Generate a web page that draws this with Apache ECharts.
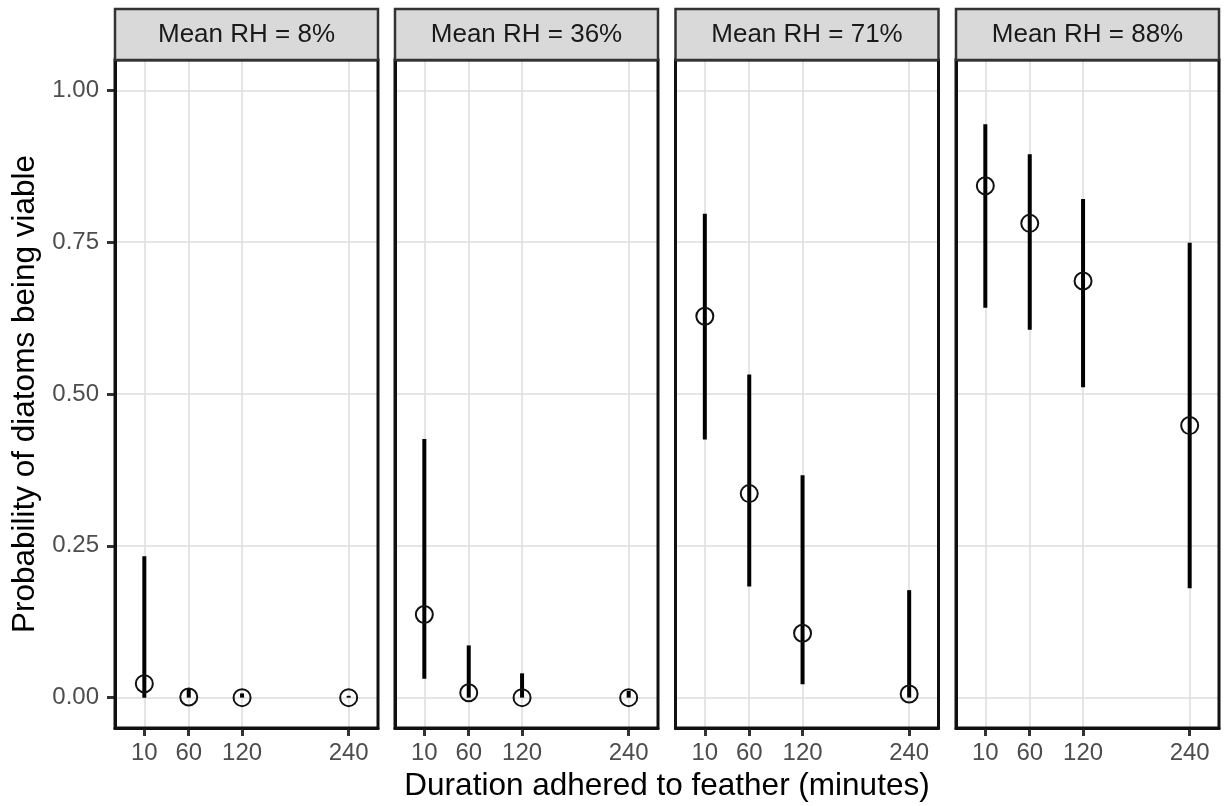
<!DOCTYPE html>
<html>
<head>
<meta charset="utf-8">
<script src="https://cdn.jsdelivr.net/npm/echarts@6/dist/echarts.min.js"></script>
<style>
html,body{margin:0;padding:0;background:#fff;}
#chart{width:1225px;height:806px;}
</style>
</head>
<body>
<div id="chart"></div>
<script>
// ---- data ----
var durations = [10, 60, 120, 240];
var xTickLabels = [10, 60, 120, 240];
var yTickValues = [0, 0.25, 0.5, 0.75, 1];
var panelTitles = ['Mean RH = 8%', 'Mean RH = 36%', 'Mean RH = 71%', 'Mean RH = 88%'];

var est8  = [0.023, 0.001, 0.000, 0.000];
var lo8   = [0.000, 0.000, 0.000, 0.000];
var hi8   = [0.233, 0.015, 0.007, 0.003];

var est36 = [0.137, 0.008, 0.000, 0.000];
var lo36  = [0.031, 0.000, 0.000, 0.000];
var hi36  = [0.426, 0.086, 0.040, 0.011];

var est71 = [0.628, 0.336, 0.106, 0.006];
var lo71  = [0.425, 0.183, 0.022, 0.000];
var hi71  = [0.797, 0.532, 0.366, 0.177];

var est88 = [0.843, 0.781, 0.686, 0.448];
var lo88  = [0.642, 0.606, 0.511, 0.180];
var hi88  = [0.944, 0.895, 0.821, 0.749];

var xTitle = 'Duration adhered to feather (minutes)';
var yTitle = 'Probability of diatoms being viable';

// ---- layout ----
var FONT = '"Liberation Sans", Arial, Helvetica, sans-serif';
var panelLefts = [115, 395, 675.5, 956];
var panelWidth = 263;
var panelTop = 60;
var panelHeight = 668;
var stripTop = 9;

var ests = [est8, est36, est71, est88];
var los = [lo8, lo36, lo71, lo88];
var his = [hi8, hi36, hi71, hi88];

var grids = [], xAxes = [], yAxes = [], series = [], graphics = [];

for (var i = 0; i < 4; i++) {
  grids.push({
    left: panelLefts[i], top: panelTop, width: panelWidth, height: panelHeight,
    show: true, backgroundColor: '#fff', borderColor: 'transparent', borderWidth: 0,
    outerBoundsMode: 'none', containLabel: false
  });
  xAxes.push({
    type: 'value', gridIndex: i, min: -23, max: 273, position: 'bottom',
    axisLine: { show: true, onZero: false, lineStyle: { color: '#111', width: 3 } },
    axisTick: { show: true, inside: false, length: 8, customValues: xTickLabels, lineStyle: { color: '#333', width: 3 } },
    axisLabel: { show: true, customValues: xTickLabels, margin: 13, color: '#4D4D4D', fontSize: 24, fontFamily: FONT },
    splitLine: { show: true, lineStyle: { color: '#DCDCDC', width: 1.5 } },
    minorSplitLine: { show: false }
  });
  yAxes.push({
    type: 'value', gridIndex: i, min: -0.05, max: 1.05, position: 'left',
    axisLine: { show: true, onZero: false, lineStyle: { color: '#111', width: 3 } },
    axisTick: { show: i === 0, inside: false, length: 8, customValues: yTickValues, lineStyle: { color: '#333', width: 3 } },
    axisLabel: { show: i === 0, customValues: yTickValues, margin: 16, color: '#4D4D4D', fontSize: 24, fontFamily: FONT,
      formatter: function (v) { return Number(v).toFixed(2); } },
    splitLine: { show: true, lineStyle: { color: '#DCDCDC', width: 1.5 } }
  });

  var barData = [], ptData = [];
  for (var j = 0; j < durations.length; j++) {
    barData.push([durations[j], los[i][j], his[i][j]]);
    ptData.push([durations[j], ests[i][j]]);
  }
  series.push({
    type: 'custom', xAxisIndex: i, yAxisIndex: i, z: 3, silent: true,
    data: barData,
    encode: { x: 0, y: [1, 2] },
    renderItem: function (params, api) {
      var p1 = api.coord([api.value(0), api.value(1)]);
      var p2 = api.coord([api.value(0), api.value(2)]);
      return { type: 'line', shape: { x1: p1[0], y1: p1[1], x2: p2[0], y2: p2[1] },
        style: { stroke: '#000', lineWidth: 4, lineCap: 'butt' } };
    }
  });
  series.push({
    type: 'scatter', xAxisIndex: i, yAxisIndex: i, z: 4, silent: true,
    data: ptData, symbol: 'circle', symbolSize: 17,
    itemStyle: { color: 'rgba(0,0,0,0)', borderColor: '#111', borderWidth: 2, opacity: 1 }
  });

  // panel border
  graphics.push({
    type: 'rect', z: 100,
    shape: { x: panelLefts[i], y: panelTop, width: panelWidth, height: panelHeight },
    style: { fill: 'none', stroke: '#111', lineWidth: 3 }
  });
  // strip
  graphics.push({
    type: 'rect', z: 100,
    shape: { x: panelLefts[i], y: stripTop, width: panelWidth, height: panelTop - stripTop },
    style: { fill: '#D9D9D9', stroke: '#333', lineWidth: 2.5 }
  });
  graphics.push({
    type: 'text', z: 101, x: panelLefts[i] + panelWidth / 2, y: (stripTop + panelTop) / 2,
    style: { text: panelTitles[i], font: '26px ' + FONT, fill: '#1A1A1A', textAlign: 'center', textVerticalAlign: 'middle' }
  });
}

graphics.push({
  type: 'text', z: 101, x: (panelLefts[0] + panelLefts[3] + panelWidth) / 2, y: 786,
  style: { text: xTitle, font: '31.5px ' + FONT, fill: '#000', textAlign: 'center', textVerticalAlign: 'middle' }
});
graphics.push({
  type: 'text', z: 101, x: 25, y: panelTop + panelHeight / 2, rotation: Math.PI / 2,
  style: { text: yTitle, font: '31.5px ' + FONT, fill: '#000', textAlign: 'center', textVerticalAlign: 'middle' }
});

var chart = echarts.init(document.getElementById('chart'), null, { renderer: 'canvas' });
chart.setOption({
  animation: false,
  backgroundColor: '#fff',
  textStyle: { fontFamily: FONT },
  grid: grids,
  xAxis: xAxes,
  yAxis: yAxes,
  series: series,
  graphic: graphics
});
</script>
</body>
</html>
